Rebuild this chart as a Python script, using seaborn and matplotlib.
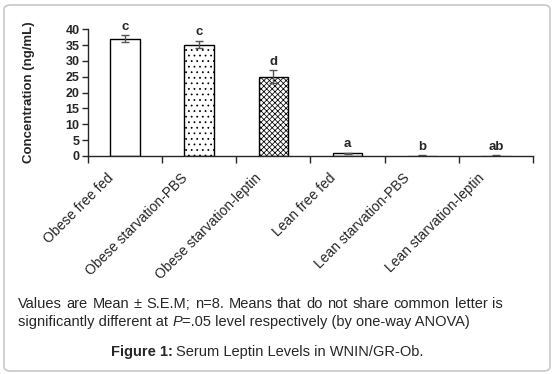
import numpy as np
import pandas as pd
import matplotlib
matplotlib.use("Agg")
import matplotlib.pyplot as plt
import seaborn as sns
from matplotlib.patches import FancyBboxPatch
from matplotlib.transforms import ScaledTranslation

groups = ["Obese free fed", "Obese starvation-PBS", "Obese starvation-leptin",
          "Lean free fed", "Lean starvation-PBS", "Lean starvation-leptin"]
means = [37.0, 35.2, 25.0, 0.9, 0.15, 0.15]
sems = [1.1, 1.2, 2.0, 0.2, 0.05, 0.05]
letters = ["c", "c", "d", "a", "b", "ab"]
hatches = ["", "...", "xxxxxx", "", "...", "xxxxxx"]
yticks = [0, 5, 10, 15, 20, 25, 30, 35, 40]

sns.set_style("ticks")
plt.rcParams["font.family"] = ["Liberation Sans", "DejaVu Sans"]
plt.rcParams["hatch.linewidth"] = 0.55

fig = plt.figure(figsize=(5.56, 3.74), dpi=100)
ax = fig.add_axes([88 / 556, 1 - 156 / 374, (533 - 88) / 556, (156 - 29.3) / 374])

df = pd.DataFrame({"group": groups, "mean": means})
sns.barplot(data=df, x="group", y="mean", color="white", edgecolor="black",
            linewidth=1, width=0.4, ax=ax, errorbar=None)

for i, p in enumerate(ax.patches):
    p.set_hatch(hatches[i])
    if means[i] < 0.5:
        p.set_edgecolor("#8c8c8c")

ax.errorbar(range(len(groups)), means, yerr=sems, fmt="none",
            ecolor="#555555", elinewidth=1, capsize=3, capthick=1)

for i, (m, s, l) in enumerate(zip(means, sems, letters)):
    ax.text(i, m + s + 0.8, l, ha="center", va="bottom",
            fontsize=9.5, fontweight="bold")

ax.set_xlim(-0.5, 5.5)
ax.set_ylim(0, 40)
ax.set_yticks(yticks)
ax.set_yticklabels([str(v) for v in yticks], fontweight="bold", fontsize=9)
ax.set_ylabel("Concentration (ng/mL)", fontweight="bold", fontsize=9.5, labelpad=22)
ax.set_xlabel("")

ax.set_xticks(range(len(groups)))
ax.set_xticklabels(groups, rotation=45, ha="right", va="center",
                   rotation_mode="anchor", fontsize=10)
ax.set_xticks(np.arange(-0.5, 6, 1), minor=True)
ax.tick_params(axis="x", which="major", length=0, pad=14)
ax.tick_params(axis="x", which="minor", length=5, width=1, direction="out")
ax.tick_params(axis="y", length=4, width=1, direction="out", pad=2)
for lbl in ax.get_xticklabels():
    lbl.set_transform(lbl.get_transform() + ScaledTranslation(-0.14, 0, fig.dpi_scale_trans))

sns.despine(ax=ax)
ax.spines["left"].set_linewidth(1)
ax.spines["bottom"].set_linewidth(1)

# footnote, first line justified between x=18 and x=503 px
fs = 10.5
renderer = fig.canvas.get_renderer()
line1 = "Values are Mean \u00b1 S.E.M; n=8. Means that do not share common letter is"
words = line1.split(" ")
word_texts = [fig.text(0, 1 - 308 / 374, w, fontsize=fs, ha="left", va="baseline")
              for w in words]
widths = [t.get_window_extent(renderer).width for t in word_texts]
gap = (503 - 18 - sum(widths)) / (len(words) - 1)
x = 18.0
for t, w in zip(word_texts, widths):
    t.set_x(x / 556)
    x += w + gap

t1 = fig.text(18 / 556, 1 - 326 / 374, "significantly different at ",
              fontsize=fs, ha="left", va="baseline")
t2 = ax.annotate("P", xy=(1, 0), xycoords=t1, va="bottom", ha="left",
                 fontsize=fs, fontstyle="italic", annotation_clip=False)
ax.annotate("=.05 level respectively (by one-way ANOVA)", xy=(1, 0), xycoords=t2,
            va="bottom", ha="left", fontsize=fs, annotation_clip=False)

# caption
fig.text(173 / 556, 1 - 356 / 374, "Figure 1:", fontsize=fs, fontweight="bold",
         ha="right", va="baseline")
fig.text(176 / 556, 1 - 356 / 374, "Serum Leptin Levels in WNIN/GR-Ob.",
         fontsize=fs, ha="left", va="baseline")

frame = FancyBboxPatch((4 / 556, 3 / 374), 546 / 556, 366 / 374,
                       boxstyle="round,pad=0,rounding_size=0.012",
                       transform=fig.transFigure, facecolor="none",
                       edgecolor="#c8c8c8", linewidth=1.2)
fig.add_artist(frame)

fig.savefig("out.png", dpi=100)
